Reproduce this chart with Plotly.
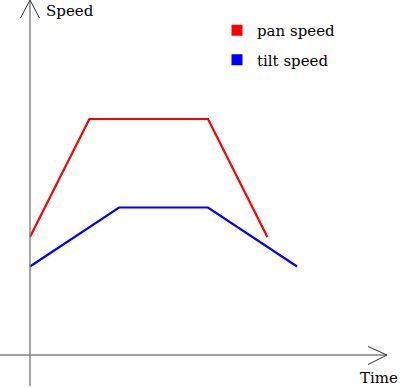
import plotly.graph_objects as go

# data (units)
pan_t = [0, 2, 6, 8]
pan_v = [4, 8, 8, 4]
tilt_t = [0, 3, 6, 9]
tilt_v = [3, 5, 5, 3]
series_names = ["pan speed", "tilt speed"]
series_colors = ["#ff0000", "#0000ff"]
axis_labels = ["Speed", "Time"]

W, H = 400, 388
ox, oy = 30, 355      # pixel of origin
ux, uy = 29.67, 29.5  # pixels per unit
xr = [-ox / ux, (W - ox) / ux]
yr = [-(H - oy) / uy, oy / uy]

def px2x(p):
    return (p - ox) / ux

def py2y(p):
    return (oy - p) / uy

SERIF = "DejaVu Serif"

fig = go.Figure()

gray = "#808080"
# axes
fig.add_shape(type="line", x0=px2x(0), x1=px2x(386), y0=0, y1=0, line=dict(color=gray, width=1.4))
fig.add_shape(type="line", x0=0, x1=0, y0=py2y(386), y1=py2y(1), line=dict(color=gray, width=1.4))
# arrow heads
fig.add_shape(type="path",
              path=f"M {px2x(368)},{py2y(346.5)} L {px2x(387)},{py2y(355)} L {px2x(368)},{py2y(364.5)}",
              line=dict(color="#333333", width=1))
fig.add_shape(type="path",
              path=f"M {px2x(20.5)},{py2y(18)} L {px2x(30)},{py2y(0)} L {px2x(39.5)},{py2y(18)}",
              line=dict(color="#333333", width=1))

for t, v, name, c in [(pan_t, pan_v, series_names[0], series_colors[0]),
                      (tilt_t, tilt_v, series_names[1], series_colors[1])]:
    fig.add_trace(go.Scatter(x=t, y=v, mode="lines", line=dict(color=c, width=2.2),
                             showlegend=False, hoverinfo="skip"))
for i, (name, c) in enumerate(zip(series_names, series_colors)):
    fig.add_trace(go.Scatter(x=[None], y=[None], mode="markers", name=name, legendgroup=f"g{i}",
                             marker=dict(symbol="square", size=11, color=c)))

fig.add_annotation(x=px2x(44), y=py2y(11), xref="x", yref="y", text=axis_labels[0],
                   showarrow=False, xanchor="left", yanchor="middle",
                   font=dict(family=SERIF, size=15, color="black"))
fig.add_annotation(x=px2x(358), y=py2y(378), xref="x", yref="y", text=axis_labels[1],
                   showarrow=False, xanchor="left", yanchor="middle",
                   font=dict(family=SERIF, size=15, color="black"))

fig.update_layout(
    width=W, height=H,
    margin=dict(l=0, r=0, t=0, b=0),
    plot_bgcolor="white", paper_bgcolor="white",
    xaxis=dict(range=xr, visible=False, fixedrange=True),
    yaxis=dict(range=yr, visible=False, fixedrange=True),
    legend=dict(x=217 / W, y=1 - 14 / H, xanchor="left", yanchor="top",
                font=dict(family=SERIF, size=15, color="black"),
                bgcolor="rgba(0,0,0,0)", itemwidth=30, tracegroupgap=7),
    showlegend=True,
)

fig.write_html("out.html", config={"displayModeBar": False},
               post_script="document.body.style.margin='0';document.body.style.overflow='hidden';")
